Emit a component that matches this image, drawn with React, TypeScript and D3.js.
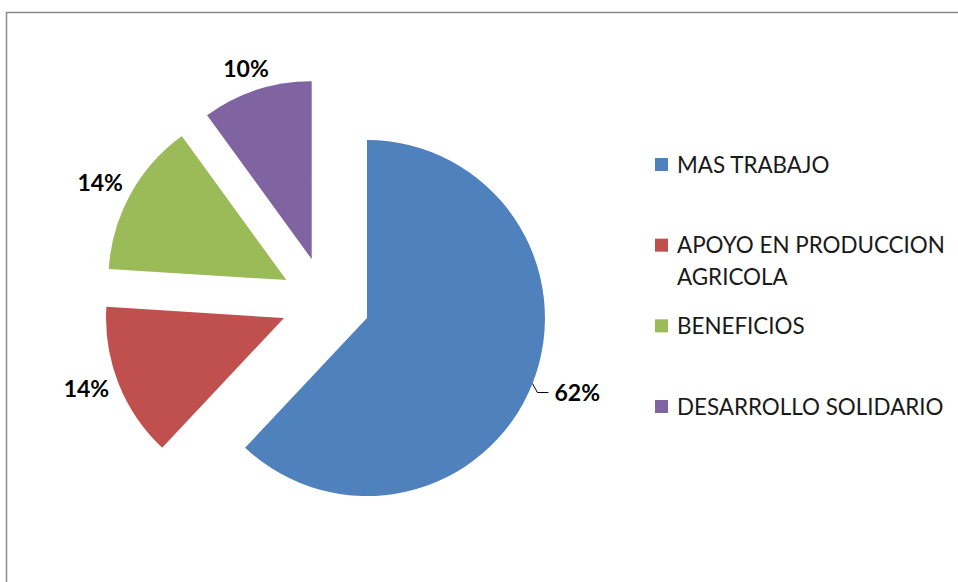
import * as d3 from 'd3';

const categories = ['MAS TRABAJO', 'APOYO EN PRODUCCION AGRICOLA', 'BENEFICIOS', 'DESARROLLO SOLIDARIO'];
const values = [62, 14, 14, 10];
const legendLines = [['MAS TRABAJO'], ['APOYO EN PRODUCCION', 'AGRICOLA'], ['BENEFICIOS'], ['DESARROLLO SOLIDARIO']];
const colors = ['#4F81BD', '#C0504D', '#9BBB59', '#8064A2'];

const W = 958, H = 582;
const CX = 325.5, CY = 301.6;
const R = 178;
const EXPLODE = 44.6;

export default function App() {
  const pie = d3.pie<number>().sort(null).value(d => d);
  const arcs = pie(values);
  const arc = d3.arc<d3.PieArcDatum<number>>().innerRadius(0).outerRadius(R);
  const color = d3.scaleOrdinal<string, string>().domain(categories).range(colors);
  const legendY = d3.scalePoint<string>().domain(categories).range([164.5, 406.5]);

  const font = 'Lato, "Open Sans", sans-serif';

  return (
    <svg width={W} height={H} style={{ position: 'absolute', left: 0, top: 0, background: '#fff' }}>
      {/* chart border */}
      <path d={`M6.5,${H + 5}V12.5H${W + 5}`} fill="none" stroke="#8a8a8a" strokeWidth={1.5} />

      {arcs.map((a, i) => {
        const mid = (a.startAngle + a.endAngle) / 2;
        const dir = [Math.sin(mid), -Math.cos(mid)];
        const ox = CX + dir[0] * EXPLODE, oy = CY + dir[1] * EXPLODE;
        const px = ox + dir[0] * R, py = oy + dir[1] * R;
        const label = `${values[i]}%`;
        let labelEl;
        if (dir[0] > 0) {
          // label with leader line on the right
          const lx = px + 5, ly = py + 9;
          labelEl = (
            <g>
              <path d={`M${px},${py}L${lx},${ly}H${lx + 11}`} fill="none" stroke="#000" strokeWidth={1} />
              <text x={lx + 17} y={ly + 8} fontFamily={font} fontWeight={700} fontSize={23} fill="#000">{label}</text>
            </g>
          );
        } else {
          const g = 12, w = 45, h = 16;
          const tx = px + dir[0] * g + dir[0] * w / 2;
          const ty = py + dir[1] * g + dir[1] * h / 2;
          labelEl = (
            <text x={tx} y={ty + 6} textAnchor="middle" fontFamily={font} fontWeight={700} fontSize={23} fill="#000">{label}</text>
          );
        }
        return (
          <g key={categories[i]}>
            <path d={arc(a) || ''} transform={`translate(${ox},${oy})`} fill={color(categories[i])} />
            {labelEl}
          </g>
        );
      })}

      {categories.map((c, i) => {
        const y = legendY(c) as number;
        return (
          <g key={c}>
            <rect x={655} y={y - 6.5} width={13} height={13} fill={color(c)} />
            {legendLines[i].map((line, j) => (
              <text key={j} x={677} y={y + 8 + j * 32} fontFamily={font} fontSize={22.4} fill="#1a1a1a">{line}</text>
            ))}
          </g>
        );
      })}
    </svg>
  );
}
